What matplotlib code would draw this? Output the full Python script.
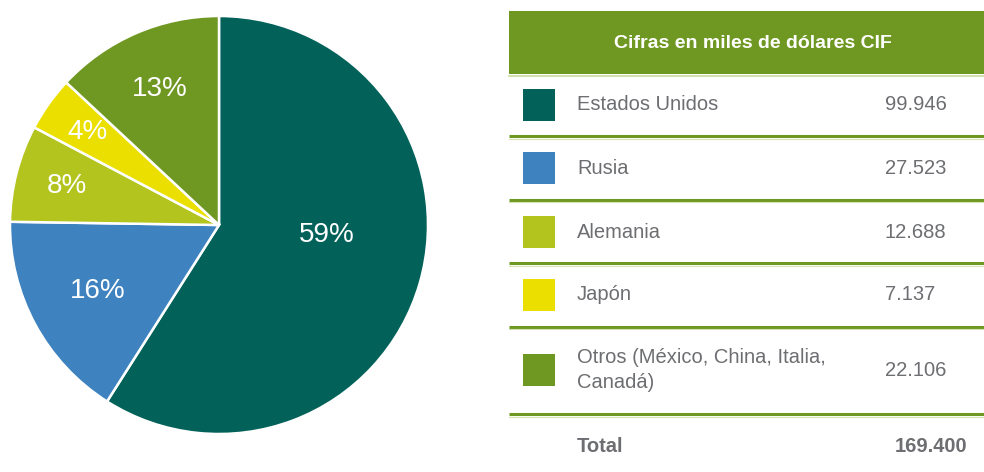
import matplotlib.pyplot as plt
import matplotlib.patches as mpatches
import numpy as np

# data
countries = ["Estados Unidos", "Rusia", "Alemania", "Japón",
             "Otros (México, China, Italia,\nCanadá)"]
values = [99946, 27523, 12688, 7137, 22106]
pct_labels = ["59%", "16%", "8%", "4%", "13%"]
value_labels = ["99.946", "27.523", "12.688", "7.137", "22.106"]
total_label = "169.400"
header = "Cifras en miles de dólares CIF"
colors = ["#02625A", "#3E82C0", "#B2C41D", "#EBDF00", "#6F9822"]

# label placement inside the slices (radius fraction, angle shift in deg)
lab_r = [0.52, 0.66, 0.75, 0.77, 0.71]
lab_shift = [11, 0, 0, 0, 0]

green = "#6F9822"
gray = "#6D6E71"
plt.rcParams['font.family'] = ["Liberation Sans", "DejaVu Sans"]

W, H = 984, 472
fig = plt.figure(figsize=(W / 100, H / 100), dpi=100)

# pie
cx, cy, r = 219, 225, 209
ax = fig.add_axes([(cx - r) / W, (H - cy - r) / H, 2 * r / W, 2 * r / H])
wedges, _ = ax.pie(values, colors=colors, startangle=90, counterclock=False,
                   wedgeprops=dict(edgecolor="white", linewidth=1.8))
for i, w in enumerate(wedges):
    ang = np.deg2rad((w.theta1 + w.theta2) / 2 + lab_shift[i])
    ax.text(lab_r[i] * np.cos(ang), lab_r[i] * np.sin(ang), pct_labels[i],
            ha="center", va="center", color="white", fontsize=20)
ax.set_xlim(-1, 1)
ax.set_ylim(-1, 1)
ax.set_aspect("equal")
ax.axis("off")

# table in pixel coordinates
tx = fig.add_axes([0, 0, 1, 1])
tx.set_xlim(0, W)
tx.set_ylim(H, 0)
tx.axis("off")

tx.add_patch(mpatches.Rectangle((509, 11), W - 509, 63, color=green, lw=0))
tx.plot([509, W], [75.5, 75.5], color="#C8DA9E", lw=1.2)
tx.text(753, 43, header, ha="center", va="center", color="white",
        fontsize=14, fontweight="bold")

fs = 14.5
row_y = [105, 168, 232, 295, 370]
line_y = [136, 199.5, 263, 326.5, 414]
for i, name in enumerate(countries):
    y = row_y[i]
    tx.add_patch(mpatches.Rectangle((523, y - 16), 32, 32, color=colors[i], lw=0))
    tx.text(577, y, name, ha="left", va="center", color=gray, fontsize=fs,
            linespacing=1.45)
    tx.text(885, y, value_labels[i], ha="left", va="center", color=gray,
            fontsize=fs)
    tx.plot([509, W], [line_y[i], line_y[i]], color=green, lw=2.2,
            solid_capstyle="butt")
    tx.plot([509, W], [line_y[i] + 2.5, line_y[i] + 2.5], color="#D6E4B5", lw=0.8)

tx.text(577, 447, "Total", ha="left", va="center", color=gray, fontsize=fs,
        fontweight="bold")
tx.text(967, 447, total_label, ha="right", va="center", color=gray, fontsize=fs,
        fontweight="bold")

fig.savefig("out.png", dpi=100)
